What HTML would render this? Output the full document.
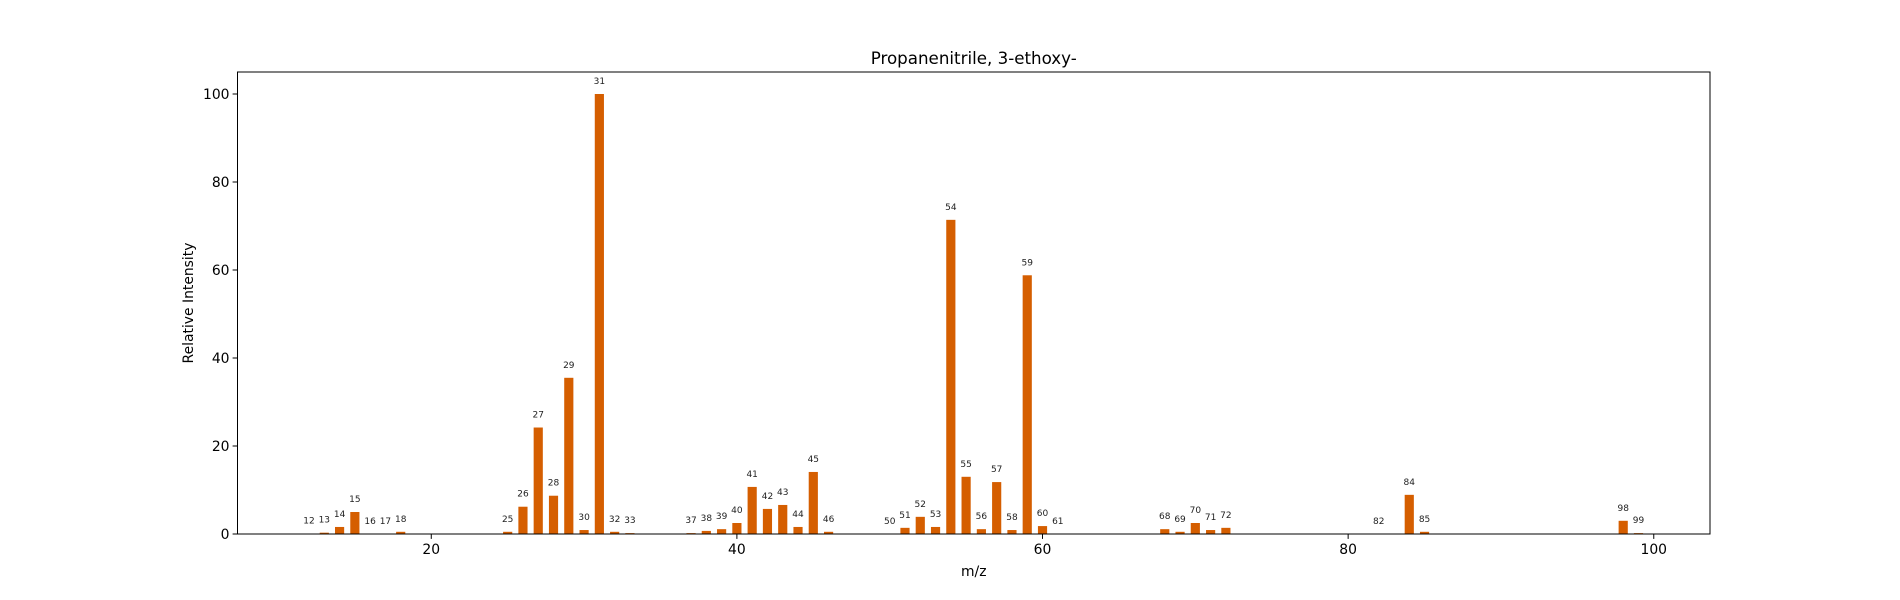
<!DOCTYPE html>
<html><head><meta charset="utf-8"><style>
body{margin:0;background:#fff;}
svg{display:block;font-family:"DejaVu Sans","Liberation Sans",sans-serif;}
</style></head><body>
<svg id="chart" width="1900" height="600">
<rect x="0" y="0" width="1900" height="600" fill="#fff"/>
<text x="973.75" y="64" font-size="16.7" text-anchor="middle" fill="#000">Propanenitrile, 3-ethoxy-</text>
<g id="bars"></g>
<g id="labels"></g>
<g id="xaxis"></g>
<g id="yaxis"></g>
<rect x="237.5" y="72" width="1472.5" height="462" fill="none" stroke="#000" stroke-width="1"/>
<text x="973.75" y="576" font-size="13.9" text-anchor="middle">m/z</text>
<text transform="translate(193,303) rotate(-90)" font-size="13.9" text-anchor="middle">Relative Intensity</text>
</svg>
<script>
const mz = [12,13,14,15,16,17,18,25,26,27,28,29,30,31,32,33,37,38,39,40,41,42,43,44,45,46,50,51,52,53,54,55,56,57,58,59,60,61,68,69,70,71,72,82,84,85,98,99];
const intensity = [0.1,0.3,1.6,5.0,0,0,0.5,0.5,6.2,24.2,8.7,35.5,0.9,100,0.5,0.2,0.2,0.7,1.1,2.5,10.7,5.7,6.6,1.6,14.1,0.5,0,1.4,3.9,1.6,71.4,13.0,1.1,11.8,0.9,58.8,1.8,0,1.1,0.5,2.5,0.9,1.4,0,8.9,0.5,3.0,0.2];
const xTicks = [20,40,60,80,100];
const yTicks = [0,20,40,60,80,100];
const L=237.5,R=1710,T=72,B=534;
const xmin=7.32,xmax=103.68,ymax=105;
const X=v=>L+(v-xmin)/(xmax-xmin)*(R-L);
const Y=v=>B-v/ymax*(B-T);
const NS="http://www.w3.org/2000/svg";
const mk=(t,a,p)=>{const e=document.createElementNS(NS,t);for(const k in a)e.setAttribute(k,a[k]);p.appendChild(e);return e;};
const bars=document.getElementById('bars'),labels=document.getElementById('labels');
const xa=document.getElementById('xaxis'),ya=document.getElementById('yaxis');
const bw=0.6;
mz.forEach((m,i)=>{
  const v=intensity[i];
  const r=mk('rect',{x:X(m-bw/2),y:Y(v),width:X(m+bw/2)-X(m-bw/2),height:B-Y(v),fill:'#D55E00'},bars);
  
  
  const t=mk('text',{x:X(m),y:Y(v)-10,'font-size':'9','text-anchor':'middle',fill:'#222'},labels);
  t.textContent=m;
  
  
});
xTicks.forEach(v=>{
  const l=mk('line',{x1:X(v),x2:X(v),y1:B,y2:B+4.9,stroke:'#000'},xa);
  
  
  const t=mk('text',{x:X(v),y:B+20,'font-size':'13.9','text-anchor':'middle'},xa);
  t.textContent=v;
  
  
});
yTicks.forEach(v=>{
  const l=mk('line',{x1:L-4.9,x2:L,y1:Y(v),y2:Y(v),stroke:'#000'},ya);
  
  
  const t=mk('text',{x:L-8,y:Y(v)+5,'font-size':'13.9','text-anchor':'end'},ya);
  t.textContent=v;
  
  
});
</script>
</body></html>
